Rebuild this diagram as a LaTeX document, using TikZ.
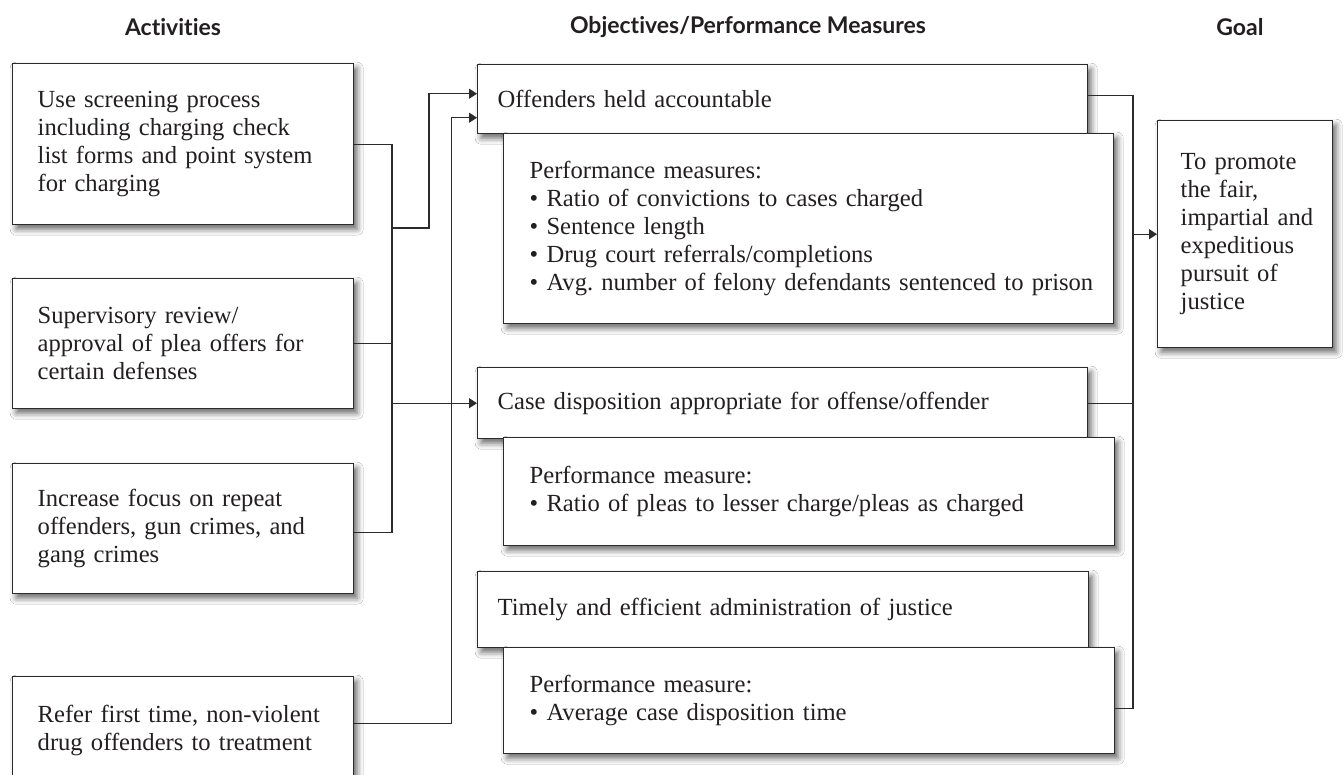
\documentclass[tikz,border=0pt]{standalone}
\usepackage{fontspec}
\setmainfont{Liberation Serif}
\newfontfamily\hdfont[Ligatures=NoCommon]{Lato}
\usetikzlibrary{arrows.meta,shadows.blur}
\definecolor{linec}{HTML}{2B2B2B}
\definecolor{txtc}{HTML}{231F20}
\newcommand{\bodyfnt}{\fontsize{24.6}{28}\selectfont\frenchspacing}
\begin{document}
\begin{tikzpicture}[x=1pt,y=-1pt,
  bx/.style={draw=linec, line width=1.4pt, fill=white, anchor=north west, align=left,
    inner ysep=0pt, inner xsep=4pt, text=txtc, font=\bodyfnt,
    blur shadow={shadow xshift=3.5pt, shadow yshift=-4.5pt, shadow blur radius=6pt, shadow opacity=60}},
  pad/.style={execute at begin node={\leftskip=#1\relax}},
  hd/.style={font=\hdfont\bfseries\fontsize{23}{25}\selectfont, text=txtc, anchor=center, inner sep=0pt},
  conn/.style={draw=linec, line width=1.2pt},
  arr/.style={conn, -{Triangle[length=8pt,width=10pt]}}]
\useasboundingbox (0,0) rectangle (1344,775);
\fill[white] (0,0) rectangle (1344,775);

% headers
\node[hd] (h1) at (173,27) {Activities};
\node[hd] (h2) at (748,27) {Objectives/Performance Measures};
\node[hd] (h3) at (1240,27) {Goal};

% activities
\node[bx, pad=21pt, text width=333pt, minimum width=341pt, minimum height=161pt] (a1) at (12,63)
  {Use screening process\\including charging check\\list forms and point system\\for charging};
\node[bx, pad=21pt, text width=333pt, minimum width=341pt, minimum height=130pt] (a2) at (12,278)
  {Supervisory review/\\approval of plea offers for\\certain defenses};
\node[bx, pad=21pt, text width=333pt, minimum width=341pt, minimum height=130pt] (a3) at (12,463)
  {Increase focus on repeat\\offenders, gun crimes, and\\gang crimes};
\node[bx, pad=21pt, text width=333pt, minimum width=341pt, minimum height=108pt] (a4) at (12,676)
  {Refer first time, non-violent\\drug offenders to treatment};

% objectives
\node[bx, pad=16pt, text width=602pt, minimum width=610pt, minimum height=69pt] (o1) at (477,64)
  {Offenders held accountable};
\node[bx, pad=22pt, text width=602pt, minimum width=610pt, minimum height=190pt] (p1) at (503,133)
  {Performance measures:\\\textbullet{} Ratio of convictions to cases charged\\\textbullet{} Sentence length\\\textbullet{} Drug court referrals/completions\\\textbullet{} Avg. number of felony defendants sentenced to prison};
\node[bx, pad=16pt, text width=602pt, minimum width=610pt, minimum height=71pt] (o2) at (477,367)
  {Case disposition appropriate for offense/offender};
\node[bx, pad=22pt, text width=603pt, minimum width=611pt, minimum height=108pt] (p2) at (503,437)
  {Performance measure:\\\textbullet{} Ratio of pleas to lesser charge/pleas as charged};
\node[bx, pad=16pt, text width=603pt, minimum width=611pt, minimum height=76pt] (o3) at (477,571)
  {Timely and efficient administration of justice};
\node[bx, pad=22pt, text width=603pt, minimum width=611pt, minimum height=106pt] (p3) at (503,647)
  {Performance measure:\\\textbullet{} Average case disposition time};

% goal
\node[bx, pad=19pt, text width=167pt, minimum width=175pt, minimum height=227pt] (g) at (1157,120)
  {To promote\\the fair,\\impartial and\\expeditious\\pursuit of\\justice};

% left connectors
\coordinate (bus) at (392,0);
\coordinate (j1) at (392,228);
\draw[conn] (a1.east) -| ([yshift=-4pt]a3.east -| bus) -- ([yshift=-4pt]a3.east);
\draw[conn] (a2.east) -- (a2.east -| bus);
\draw[arr] (j1) -- ++(37,0) |- ([yshift=5.5pt]o1.west);
\draw[arr] (o2.west -| bus) -- (o2.west);
\draw[arr] ([yshift=7pt]a4.east) -- ++(97,0) |- ([yshift=-18.5pt]o1.west);

% right connectors
\coordinate (rbus) at (1133,0);
\draw[conn] ([yshift=3.5pt]o1.east) -| ([yshift=-8pt]p3.east -| rbus) -- ([yshift=-8pt]p3.east);
\draw[conn] (o2.east) -- (o2.east -| rbus);
\draw[arr] (g.west -| rbus) -- (g.west);
\end{tikzpicture}
\end{document}
